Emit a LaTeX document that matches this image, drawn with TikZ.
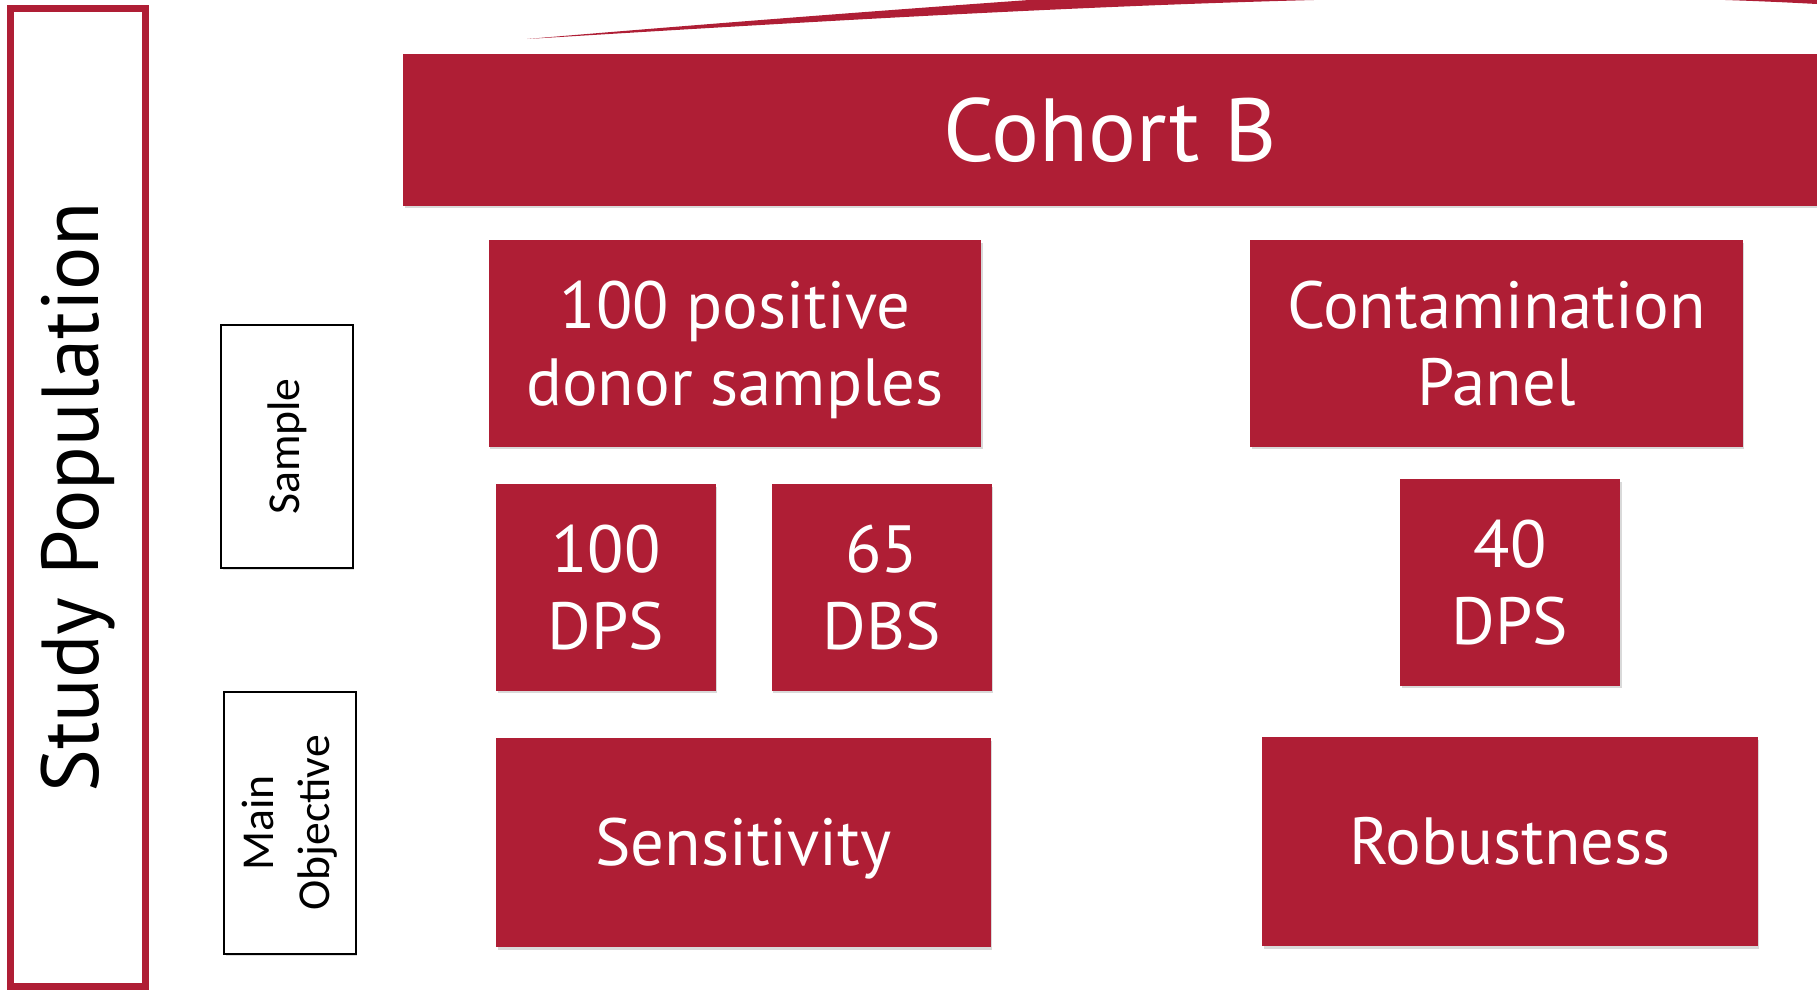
\documentclass[tikz,border=0pt]{standalone}
\usepackage{fontspec}
\setmainfont{PT Sans}
\newfontfamily\calfont{Carlito}
\definecolor{cohortred}{RGB}{175,30,53}
\usetikzlibrary{positioning, shadows}

\begin{document}
\begin{tikzpicture}[
        x=0.02cm, y=-0.02cm,
        redbox/.style={rectangle, fill=cohortred, text=white, inner sep=0pt, align=center, font=\fontsize{38}{44}\selectfont, drop shadow={shadow xshift=0.03cm, shadow yshift=-0.05cm, opacity=0.3}},
        wide/.style={redbox, minimum width=9.86cm, minimum height=4.14cm},
        small/.style={redbox, minimum width=4.4cm, minimum height=4.14cm},
        tag/.style={rectangle, draw=black, line width=1.1pt, fill=white, rotate=90, inner sep=0pt, align=center, minimum height=2.64cm, font=\calfont\fontsize{26}{32}\selectfont, drop shadow={shadow xshift=0.03cm, shadow yshift=-0.04cm, opacity=0.25}}
    ]
        \useasboundingbox (0,0) rectangle (1817,992);

        % Swoosh at the top edge
        \begin{scope}
            \clip (0,0) rectangle (1817,992);
            \fill[cohortred] (527,39) .. controls (1000,10) and (1450,-16) .. (1817,4)
                -- (1830,-40) -- (1100,-40) -- (1100,-5)
                .. controls (1000,2) and (800,16) .. (527,39) -- cycle;
        \end{scope}

        % Study population frame
        \node[rectangle, draw=cohortred, line width=0.14cm, rotate=90, minimum width=19.56cm, minimum height=2.7cm, inner sep=0pt, font=\fontsize{46}{50}\selectfont] (POP) at (78,497.5) {Study Population};

        % Row labels
        \node[tag, minimum width=4.86cm] (SAMPLE) at (287,446.5) {Sample};
        \node[tag, minimum width=5.24cm] (OBJ) at (290,823) {Main\\Objective};

        % Cohort header
        \node[redbox, minimum width=28.28cm, minimum height=3.04cm, font=\fontsize{51}{56}\selectfont] (COHORT) at (1110,130) {Cohort B};

        % Samples
        \node[wide] (DONOR) at (735,343.5) {100 positive\\donor sam\smash{p}les};
        \node[wide] (PANEL) at (1496.5,343.5) {Contamination\\Panel};

        % Sample types
        \node[small] (DPS) at (606,587.5) {100\\DPS};
        \node[small, right=1.1cm of DPS] (DBS) {65\\DBS};
        \node[small] (DPSB) at (1510,582.5) {40\\DPS};

        % Objectives
        \node[wide, minimum width=9.9cm, minimum height=4.18cm] (SENS) at (743.5,842.5) {Sensitivit\smash{y}};
        \node[wide, minimum width=9.92cm, minimum height=4.18cm] (ROBUST) at (1510,841.5) {Robustness};
    \end{tikzpicture}
\end{document}
